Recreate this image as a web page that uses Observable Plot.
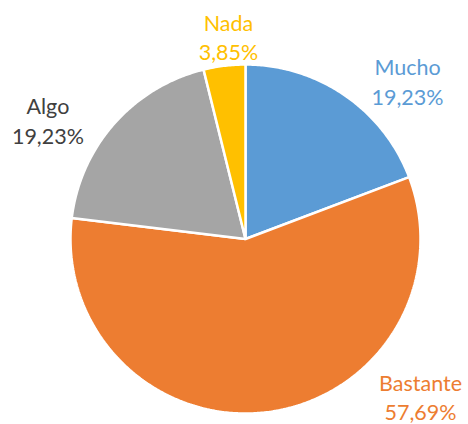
<!DOCTYPE html>
<html>
<head>
<meta charset="utf-8">
<script src="https://cdn.jsdelivr.net/npm/d3@7"></script>
<script src="https://cdn.jsdelivr.net/npm/@observablehq/plot@0.6"></script>
<style>
  html, body { margin: 0; padding: 0; background: #fff; }
</style>
</head>
<body>
<div id="chart"></div>
<script>
// Data
const categories = ["Mucho", "Bastante", "Algo", "Nada"];
const values = [19.23, 57.69, 19.23, 3.85];
const labels = ["19,23%", "57,69%", "19,23%", "3,85%"];

// Styles
const sliceColors = ["#5B9BD5", "#ED7D31", "#A5A5A5", "#FFC000"];
const textColors = ["#5B9BD5", "#ED7D31", "#404040", "#FFC000"];
// Label placement (in pie-radius units, relative to centre)
const labelX = [0.926, 1.0, -1.129, -0.097];
const labelY = [0.909, -0.90, 0.683, 1.163];

const total = d3.sum(values);
const pts = [];
let start = 0;
categories.forEach((c, i) => {
  const a0 = start / total * 2 * Math.PI;
  const a1 = (start + values[i]) / total * 2 * Math.PI;
  start += values[i];
  pts.push({cat: c, color: sliceColors[i], x: 0, y: 0});
  const n = Math.max(4, Math.ceil((a1 - a0) / 0.01));
  for (let k = 0; k <= n; k++) {
    const a = a0 + (a1 - a0) * k / n;
    pts.push({cat: c, color: sliceColors[i], x: Math.sin(a), y: Math.cos(a)});
  }
});

const labelData = categories.map((c, i) => ({
  text: c + "\n" + labels[i], x: labelX[i], y: labelY[i], color: textColors[i]
}));

const chart = Plot.plot({
  width: 468,
  height: 424,
  marginLeft: 70,
  marginRight: 48,
  marginTop: 64,
  marginBottom: 11,
  x: {domain: [-1, 1], axis: null},
  y: {domain: [-1, 1], axis: null},
  color: {type: "identity"},
  style: {fontFamily: "Lato, 'Open Sans', sans-serif", background: "#fff", overflow: "visible"},
  marks: [
    Plot.line(pts, {x: "x", y: "y", z: "cat", fill: "color", stroke: "white", strokeWidth: 2.5, curve: "linear-closed", strokeLinejoin: "miter"}),
    Plot.text(labelData, {x: "x", y: "y", text: "text", fill: "color", fontSize: 21.5, lineHeight: 1.38, textAnchor: "middle"})
  ]
});
document.getElementById("chart").appendChild(chart);
</script>
</body>
</html>
